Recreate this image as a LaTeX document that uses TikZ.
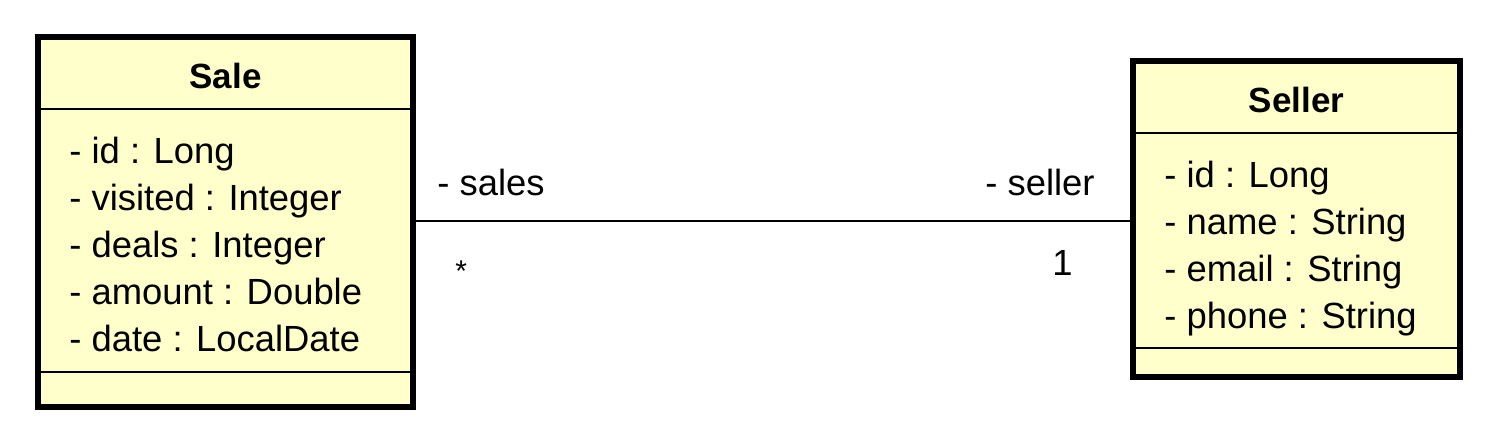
\documentclass[tikz,border=0pt]{standalone}
\usepackage{fontspec}
\setmainfont{Liberation Sans}
\definecolor{umlfill}{HTML}{FFFFCC}
\begin{document}
\begin{tikzpicture}[x=0.5pt,y=-0.5pt,
  classbox/.style={draw=black, fill=umlfill, line width=3pt, inner sep=0pt, outer sep=0pt, rectangle},
  attr/.style={anchor=base west, inner sep=0pt, font=\fontsize{18.2}{22}\selectfont},
  ctitle/.style={anchor=base, inner sep=0pt, font=\fontsize{17.5}{21}\selectfont\bfseries},
  sepline/.style={line width=1pt},
  assoc/.style={line width=1pt},
  lbl/.style={inner sep=0pt, font=\fontsize{18.2}{22}\selectfont}]
\useasboundingbox (0,0) rectangle (1497,435);
\fill[white] (0,0) rectangle (1497,435);

% boxes
\node[classbox, minimum width=187.5pt, minimum height=185pt] (sale) at (225.5,222) {};
\node[classbox, minimum width=163.5pt, minimum height=158pt] (seller) at (1296.5,219) {};

% association
\draw[assoc] (sale.east |- 0,221) -- (seller.west |- 0,221);

% separators
\draw[sepline] (sale.west |- 0,109) -- (sale.east |- 0,109);
\draw[sepline] (sale.west |- 0,372) -- (sale.east |- 0,372);
\draw[sepline] (seller.west |- 0,133) -- (seller.east |- 0,133);
\draw[sepline] (seller.west |- 0,348) -- (seller.east |- 0,348);

% redraw borders on top
\draw[line width=3pt] (sale.north west) rectangle (sale.south east);
\draw[line width=3pt] (seller.north west) rectangle (seller.south east);

% Sale text
\node[ctitle] (saletitle) at (225.5,88) {Sale};
\node[attr] (s1) at (69,163) {- id : Long};
\node[attr] (s2) at (69,210) {- visited : Integer};
\node[attr] (s3) at (69,257) {- deals : Integer};
\node[attr] (s4) at (69,304) {- amount : Double};
\node[attr] (s5) at (69,351) {- date : LocalDate};

% Seller text
\node[ctitle] (sellertitle) at (1296.5,112) {Seller};
\node[attr] (e1) at (1164,187) {- id : Long};
\node[attr] (e2) at (1164,234) {- name : String};
\node[attr] (e3) at (1164,281) {- email : String};
\node[attr] (e4) at (1164,328) {- phone : String};

% role labels
\node[lbl, anchor=base west] (rsales) at (437,195) {- sales};
\node[lbl, anchor=base east] (rseller) at (1095,195) {- seller};
\node[lbl, anchor=base west, font=\fontsize{15}{18}\selectfont] (msales) at (455,281) {*};
\node[lbl, anchor=base east] (mseller) at (1073,275) {1};
\end{tikzpicture}
\end{document}
